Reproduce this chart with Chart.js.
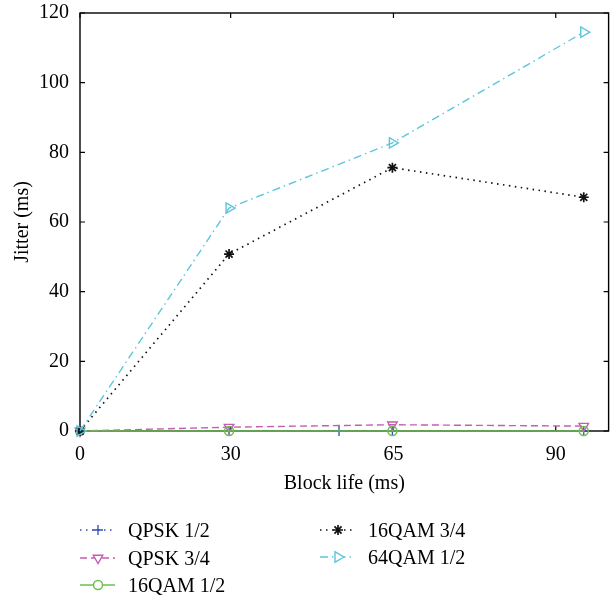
<!DOCTYPE html>
<html>
<head>
<meta charset="utf-8">
<title>Jitter vs block life</title>
<script src="https://cdn.jsdelivr.net/npm/chart.js@4.4.1/dist/chart.umd.min.js"></script>
<style>
  html, body { margin: 0; padding: 0; background: #fff; }
  #wrap { width: 616px; height: 598px; }
</style>
</head>
<body>
<div id="wrap"><canvas id="jitterChart" width="616" height="598"></canvas></div>
<script>
// ── Data ───────────────────────────────────────────────────────────────────
// x positions of the four block-life runs on the plot axis
const blockLifePos = [0, 28.2, 59.1, 95.3];
// QPSK 1/2 was sampled at one extra point
const qpsk12Pos = [0, 28.2, 49, 59.1, 95.3];

const qpsk12   = [0, 0, 0, 0, 0];
const qpsk34   = [0, 1.1, 1.8, 1.4];
const qam16_12 = [0, 0, 0, 0];
const qam16_34 = [0, 50.8, 75.6, 67.1];
const qam64_12 = [0, 64.0, 82.7, 114.5];

const xTickPos    = [0, 28.5, 59.3, 90];
const xTickLabels = ['0', '30', '65', '90'];

// ── Chart.js defaults ──────────────────────────────────────────────────────
Chart.defaults.font.family = '"Liberation Serif", "DejaVu Serif", serif';
Chart.defaults.font.size = 20;
Chart.defaults.color = '#000';

const toPoints = (xs, ys) => ys.map((y, i) => ({ x: xs[i], y }));

const series = [
  { label: 'QPSK 1/2',   data: toPoints(qpsk12Pos, qpsk12),      color: '#2f4fae', dash: [1.5, 4.5],       style: 'cross',    rot: 0,   r: 5,   bw: 1.3, order: 5 },
  { label: 'QPSK 3/4',   data: toPoints(blockLifePos, qpsk34),   color: '#c55cb2', dash: [7, 4],           style: 'triangle', rot: 180, r: 5.5, bw: 1.4, order: 4 },
  { label: '16QAM 1/2',  data: toPoints(blockLifePos, qam16_12), color: '#6cbf4c', dash: [],               style: 'circle',   rot: 0,   r: 4.5, bw: 1.5, order: 3 },
  { label: '16QAM 3/4',  data: toPoints(blockLifePos, qam16_34), color: '#111111', dash: [1.5, 4.5],       style: 'star',     rot: 0,   r: 5,   bw: 1.7, order: 2 },
  { label: '64QAM 1/2',  data: toPoints(blockLifePos, qam64_12), color: '#5cc6dd', dash: [8, 4, 1.5, 4],   style: 'triangle', rot: 90,  r: 6,   bw: 1.4, order: 1 }
];

// ── Frame with inward tick marks ───────────────────────────────────────────
const framePlugin = {
  id: 'frame',
  beforeDatasetsDraw(chart) {
    const { ctx, chartArea: a, scales: { x, y } } = chart;
    const len = 5;
    ctx.save();
    ctx.strokeStyle = '#000';
    ctx.lineWidth = 1.4;
    ctx.strokeRect(a.left, a.top, a.right - a.left, a.bottom - a.top);
    ctx.lineWidth = 1.2;
    ctx.beginPath();
    x.ticks.forEach(t => {
      const px = x.getPixelForValue(t.value);
      ctx.moveTo(px, a.bottom); ctx.lineTo(px, a.bottom - len);
      ctx.moveTo(px, a.top);    ctx.lineTo(px, a.top + len);
    });
    y.ticks.forEach(t => {
      const py = y.getPixelForValue(t.value);
      ctx.moveTo(a.left, py);  ctx.lineTo(a.left + len, py);
      ctx.moveTo(a.right, py); ctx.lineTo(a.right - len, py);
    });
    ctx.stroke();
    ctx.restore();
  }
};

// ── Two-column legend under the axes ───────────────────────────────────────
const legendPlugin = {
  id: 'colLegend',
  afterDraw(chart) {
    const { ctx } = chart;
    const slots = [
      { x: 80,  y: 530 }, { x: 80,  y: 558 }, { x: 80,  y: 585 },
      { x: 320, y: 530 }, { x: 320, y: 557 }
    ];
    ctx.save();
    chart.data.datasets.forEach((ds, i) => {
      const s = slots[i];
      ctx.strokeStyle = ds.borderColor;
      ctx.lineWidth = ds.borderWidth;
      ctx.setLineDash(ds.borderDash);
      ctx.beginPath();
      ctx.moveTo(s.x, s.y);
      ctx.lineTo(s.x + 35, s.y);
      ctx.stroke();
      ctx.setLineDash([]);
      ctx.fillStyle = '#fff';
      ctx.lineWidth = ds.pointBorderWidth;
      Chart.helpers.drawPoint(ctx, {
        pointStyle: ds.pointStyle, rotation: ds.pointRotation,
        radius: ds.pointRadius, borderWidth: ds.pointBorderWidth
      }, s.x + 18, s.y);
      ctx.fillStyle = '#000';
      ctx.font = '20px "Liberation Serif", "DejaVu Serif", serif';
      ctx.textBaseline = 'alphabetic';
      ctx.textAlign = 'left';
      ctx.fillText(ds.label, s.x + 48, s.y + 7);
    });
    ctx.restore();
  }
};

new Chart(document.getElementById('jitterChart'), {
  type: 'line',
  data: {
    datasets: series.map(s => ({
      label: s.label,
      data: s.data,
      borderColor: s.color,
      borderWidth: s.bw,
      borderDash: s.dash,
      pointStyle: s.style,
      pointRotation: s.rot,
      pointRadius: s.r,
      pointBorderWidth: s.bw,
      pointBorderColor: s.color,
      pointBackgroundColor: 'rgba(0,0,0,0)',
      tension: 0,
      fill: false,
      clip: false,
      order: s.order
    }))
  },
  options: {
    responsive: false,
    animation: false,
    layout: { padding: { top: 13, right: 2, left: 0, bottom: 101 } },
    plugins: { legend: { display: false }, tooltip: { enabled: false } },
    scales: {
      x: {
        type: 'linear',
        min: 0,
        max: 100,
        grid: { display: false, drawTicks: false },
        border: { display: false },
        afterBuildTicks: scale => { scale.ticks = xTickPos.map(v => ({ value: v })); },
        afterFit: scale => {
          scale.height = 66;
          scale.paddingLeft = 0;
          scale.paddingRight = 0;
        },
        ticks: {
          padding: 12,
          autoSkip: false,
          maxRotation: 0,
          callback: (v, i) => xTickLabels[i]
        },
        title: { display: true, text: 'Block life (ms)', padding: { top: 0, bottom: 1 } }
      },
      y: {
        min: 0,
        max: 120,
        grid: { display: false, drawTicks: false },
        border: { display: false },
        afterFit: scale => {
          scale.width = 80;
          scale.paddingTop = 0;
          scale.paddingBottom = 0;
        },
        ticks: { stepSize: 20, padding: 11 },
        title: { display: true, text: 'Jitter (ms)', padding: { top: 11, bottom: 0 } }
      }
    }
  },
  plugins: [framePlugin, legendPlugin]
});
</script>
</body>
</html>
